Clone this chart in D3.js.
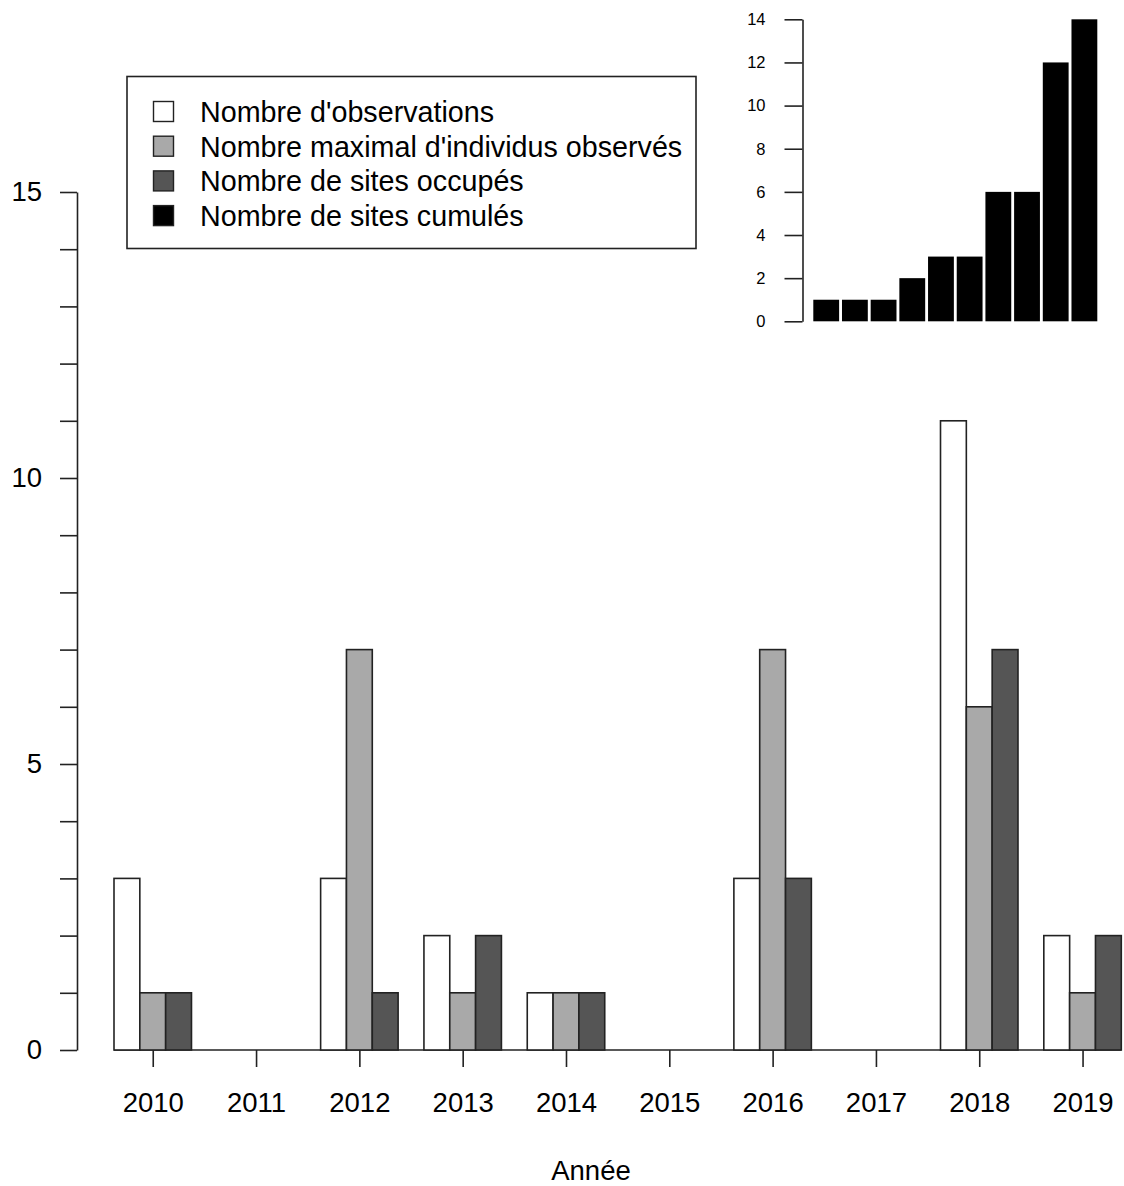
<!DOCTYPE html>
<html>
<head>
<meta charset="utf-8">
<script src="https://cdn.jsdelivr.net/npm/d3@7"></script>
<style>
  html, body { margin: 0; padding: 0; background: #fff; }
  svg { display: block; font-family: "Liberation Sans", Arial, sans-serif; }
</style>
</head>
<body>
<svg id="chart" width="1124" height="1186"></svg>
<script>
// Yearly counts
const years = ["2010","2011","2012","2013","2014","2015","2016","2017","2018","2019"];
const observations = [3, 0, 3, 2, 1, 0, 3, 0, 11, 2];
const maxIndividuals = [1, 0, 7, 1, 1, 0, 7, 0, 6, 1];
const occupiedSites = [1, 0, 1, 2, 1, 0, 3, 0, 7, 2];
const cumulativeSites = [1, 1, 1, 2, 3, 3, 6, 6, 12, 14];
const seriesNames = [
  "Nombre d'observations",
  "Nombre maximal d'individus observés",
  "Nombre de sites occupés",
  "Nombre de sites cumulés"
];
const seriesColors = ["#ffffff", "#a9a9a9", "#555555", "#000000"];
const mainTicks = [0, 5, 10, 15];
const insetTicks = [0, 2, 4, 6, 8, 10, 12, 14];
const xTitle = "Année";

const svg = d3.select("#chart");
const fontSize = 27.5;
const legendFontSize = 28.7;

// ---------- main grouped bar chart ----------
const y = d3.scaleLinear().domain([0, 15]).range([1050, 192]);
const x = d3.scaleBand().domain(years).range([114, 1121.3]).paddingInner(0.25).paddingOuter(0);
const groupSeries = [observations, maxIndividuals, occupiedSites];
const xs = d3.scaleBand().domain([0, 1, 2]).range([0, x.bandwidth()]);

const main = svg.append("g");

// baseline under the bars
main.append("line")
  .attr("x1", x.range()[0]).attr("x2", x.range()[1])
  .attr("y1", y(0)).attr("y2", y(0))
  .attr("stroke", "#222").attr("stroke-width", 1.6);

years.forEach((yr, i) => {
  groupSeries.forEach((vals, s) => {
    if (vals[i] <= 0) return;
    main.append("rect")
      .attr("x", x(yr) + xs(s))
      .attr("y", y(vals[i]))
      .attr("width", xs.bandwidth())
      .attr("height", y(0) - y(vals[i]))
      .attr("fill", seriesColors[s])
      .attr("stroke", "#222")
      .attr("stroke-width", 1.6);
  });
});

// y axis
const yAxis = d3.axisLeft(y)
  .tickValues(d3.range(0, 16))
  .tickSize(17)
  .tickSizeOuter(0)
  .tickPadding(18)
  .tickFormat(d => mainTicks.includes(d) ? d : "");
const gy = main.append("g").attr("transform", "translate(77,0)").call(yAxis);
gy.selectAll("path.domain").attr("stroke", "#222").attr("stroke-width", 1.6);
gy.selectAll(".tick line").attr("stroke", "#222").attr("stroke-width", 1.6);
gy.selectAll("text").attr("font-size", fontSize).attr("fill", "#000")
  .attr("font-family", "Liberation Sans, Arial, sans-serif");

// x axis: ticks at group centres, no axis line
const xAxis = d3.axisBottom(d3.scalePoint().domain(years).range([x(years[0]) + x.bandwidth() / 2, x(years[years.length - 1]) + x.bandwidth() / 2]))
  .tickSize(17)
  .tickSizeOuter(0)
  .tickPadding(25);
const gx = main.append("g").attr("transform", `translate(0,${y(0)})`).call(xAxis);
gx.select("path.domain").remove();
gx.selectAll(".tick line").attr("stroke", "#222").attr("stroke-width", 1.6);
gx.selectAll("text").attr("font-size", fontSize).attr("fill", "#000")
  .attr("font-family", "Liberation Sans, Arial, sans-serif");

main.append("text")
  .attr("x", 591).attr("y", 1180)
  .attr("text-anchor", "middle")
  .attr("font-size", fontSize)
  .text(xTitle);

// ---------- legend ----------
const legend = svg.append("g");
legend.append("rect")
  .attr("x", 127).attr("y", 76.5)
  .attr("width", 569).attr("height", 172)
  .attr("fill", "#fff").attr("stroke", "#222").attr("stroke-width", 1.6);
seriesNames.forEach((name, i) => {
  const cy = 111.5 + i * 34.7;
  legend.append("rect")
    .attr("x", 153.5).attr("y", cy - 10)
    .attr("width", 20).attr("height", 20)
    .attr("fill", seriesColors[i])
    .attr("stroke", "#222").attr("stroke-width", 1.4);
  legend.append("text")
    .attr("x", 200).attr("y", cy)
    .attr("dy", "0.36em")
    .attr("font-size", legendFontSize)
    .text(name);
});

// ---------- inset: cumulative sites ----------
const yi = d3.scaleLinear().domain([0, 14]).range([321.3, 19.3]);
const xi = d3.scaleBand().domain(years).range([813.3, 1097.3]).paddingInner(0.1).paddingOuter(0);
const inset = svg.append("g");
inset.selectAll("rect.cum")
  .data(years.map((yr, i) => ({ yr, v: cumulativeSites[i] })))
  .join("rect")
  .attr("class", "cum")
  .attr("x", d => xi(d.yr))
  .attr("y", d => yi(d.v))
  .attr("width", xi.bandwidth())
  .attr("height", d => yi(0) - yi(d.v))
  .attr("fill", seriesColors[3]);

const yiAxis = d3.axisLeft(yi)
  .tickValues(insetTicks)
  .tickSize(18)
  .tickSizeOuter(0)
  .tickPadding(19);
const giy = inset.append("g").attr("transform", "translate(802.5,0)").call(yiAxis);
giy.selectAll("path.domain").attr("stroke", "#222").attr("stroke-width", 1.6);
giy.selectAll(".tick line").attr("stroke", "#222").attr("stroke-width", 1.6);
giy.selectAll("text").attr("font-size", 16.5).attr("fill", "#000")
  .attr("font-family", "Liberation Sans, Arial, sans-serif");
</script>
</body>
</html>
